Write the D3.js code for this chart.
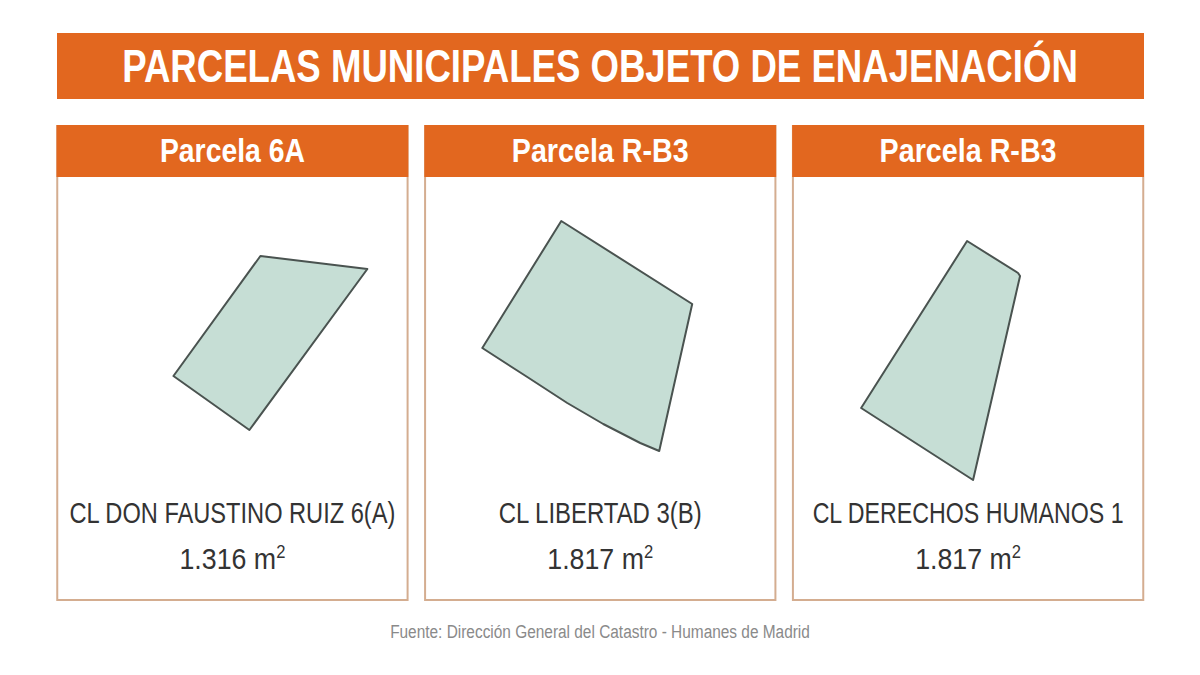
<!DOCTYPE html>
<html>
<head>
<meta charset="utf-8">
<script src="https://cdn.jsdelivr.net/npm/d3@7"></script>
<style>
  body { margin: 0; background: #fff; }
  text { font-family: "Liberation Sans", sans-serif; }
</style>
</head>
<body>
<svg id="chart" width="1200" height="675"></svg>
<script>
// Chart content
const chartTitle = "PARCELAS MUNICIPALES OBJETO DE ENAJENACIÓN";
const parcelNames = ["Parcela 6A", "Parcela R-B3", "Parcela R-B3"];
const parcelStreets = ["CL DON FAUSTINO RUIZ 6(A)", "CL LIBERTAD 3(B)", "CL DERECHOS HUMANOS 1"];
const parcelAreas = ["1.316", "1.817", "1.817"];
const sourceNote = "Fuente: Dirección General del Catastro - Humanes de Madrid";

// Outline of each plot, in plan units measured inside its own panel
const parcelShapes = [
  [[204, 79], [311, 92], [193, 253], [117, 199]],
  [[137, 44], [268, 127], [235, 274], [216, 266], [179, 247], [143, 226], [103, 200], [58, 171]],
  [[175, 64], [226, 96], [228, 99], [181, 303], [69, 231]]
];

const orange = "#e2671f";
const edge = "#d4ad90";

// The artwork uses a condensed face; squeeze the regular one to the width it had
function fitWidth(selection, width, cx) {
  selection.each(function(d, i) {
    const w = typeof width === "function" ? width(d, i) : width;
    const k = w / this.getComputedTextLength();
    d3.select(this)
      .attr("text-anchor", "middle")
      .attr("x", 0)
      .attr("transform", `translate(${cx},${this.getAttribute("y")}) scale(${k},1)`)
      .attr("y", 0);
  });
}

let svg = d3.select("#chart");

// Title band
svg.append("rect")
  .attr("x", 57).attr("y", 33)
  .attr("width", 1087).attr("height", 66)
  .attr("fill", orange);

svg.append("text")
  .attr("y", 82)
  .attr("font-size", 47)
  .attr("font-weight", "bold")
  .attr("fill", "#fff")
  .text(chartTitle)
  .call(fitWidth, 956, 600);

// One panel per parcel
const panelX = d3.scaleBand()
  .domain(d3.range(parcelNames.length))
  .range([56.5, 1144])
  .paddingInner(0.0435);
const panelWidth = panelX.bandwidth();
const planX = d3.scaleLinear().domain([0, 352]).range([0, panelWidth]);
const planY = d3.scaleLinear().domain([0, 423]).range([177, 600]);
const outline = d3.line()
  .x(d => planX(d[0]))
  .y(d => planY(d[1]))
  .curve(d3.curveLinearClosed);

let panels = svg.selectAll("g.panel")
  .data(parcelNames)
  .enter()
  .append("g")
  .attr("class", "panel")
  .attr("transform", (d, i) => `translate(${panelX(i)},0)`);

panels.append("rect")
  .attr("x", 0.75).attr("y", 126)
  .attr("width", panelWidth - 1.5).attr("height", 474)
  .attr("fill", "#fff")
  .attr("stroke", edge)
  .attr("stroke-width", 2);

panels.append("rect")
  .attr("x", 0).attr("y", 125)
  .attr("width", panelWidth).attr("height", 52)
  .attr("fill", orange);

panels.append("text")
  .attr("y", 162)
  .attr("font-size", 33)
  .attr("font-weight", "bold")
  .attr("fill", "#fff")
  .text(d => d)
  .call(fitWidth, (d, i) => [145, 177, 177][i], panelWidth / 2);

panels.append("path")
  .attr("d", (d, i) => outline(parcelShapes[i]))
  .attr("fill", "#c6ded5")
  .attr("stroke", "#4a5350")
  .attr("stroke-width", 2)
  .attr("stroke-linejoin", "round");

panels.append("text")
  .attr("y", 523)
  .attr("font-size", 29)
  .attr("fill", "#333")
  .text((d, i) => parcelStreets[i])
  .call(fitWidth, (d, i) => [326, 203, 311][i], panelWidth / 2);

let areaLabels = panels.append("text")
  .attr("y", 569)
  .attr("font-size", 29)
  .attr("fill", "#333");
areaLabels.append("tspan").text((d, i) => parcelAreas[i] + " m");
areaLabels.append("tspan")
  .attr("font-size", 18)
  .attr("dy", -11)
  .text("2");
areaLabels.call(fitWidth, 106, panelWidth / 2);

svg.append("text")
  .attr("y", 638)
  .attr("font-size", 18)
  .attr("fill", "#8a8a8a")
  .text(sourceNote)
  .call(fitWidth, 420, 600);
</script>
</body>
</html>
